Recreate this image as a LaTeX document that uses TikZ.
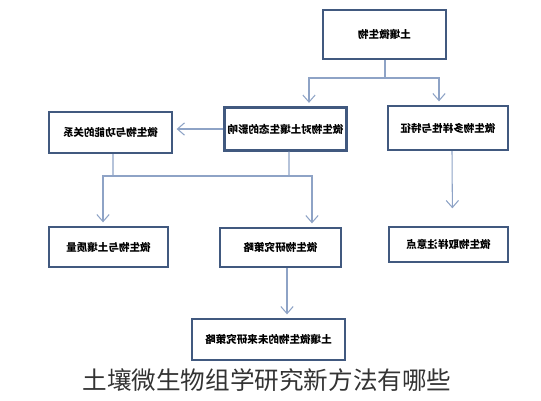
\documentclass[tikz,border=0pt]{standalone}
\usepackage{graphicx}
\usepackage{fontspec}
\newfontfamily\cjk{Noto Sans CJK SC}
\usetikzlibrary{arrows.meta}
\definecolor{boxline}{HTML}{41597F}
\definecolor{linkline}{HTML}{8EA3C6}

\begin{document}
\begin{tikzpicture}[x=0.02cm,y=-0.02cm]

\tikzstyle{box}=[shape=rectangle, draw=boxline, line width=1.3pt,
    fill=white, align=center, inner sep=0pt,
    font=\cjk\bfseries\fontsize{6}{7}\selectfont]
\tikzstyle{link}=[draw=linkline, line width=0.6pt]
\tikzstyle{arr}=[link, ->, >={Straight Barb[length=4pt,width=7pt]}, shorten >=2pt]

  \useasboundingbox (0,0) rectangle (541,400);

  \node[box, minimum width=2.46cm, minimum height=0.98cm] (soil) at (384.5,34.5) {\reflectbox{土壤微生物}};

  \node[box, minimum width=2.44cm, minimum height=0.86cm] (effect) at (285.5,129) {\reflectbox{微生物对土壤生态的影响}};
  \node[box, minimum width=2.46cm, minimum height=0.82cm] (function) at (110.5,132.5) {\reflectbox{微生物与功能的关系}};
  \node[box, minimum width=2.40cm, minimum height=0.88cm] (diversity) at (448,128) {\reflectbox{微生物多样性与特征}};

  \node[box, minimum width=2.38cm, minimum height=0.80cm] (quality) at (108.5,247) {\reflectbox{微生物与土壤质量}};
  \node[box, minimum width=2.42cm, minimum height=0.78cm] (strategy) at (280.5,247.5) {\reflectbox{微生物研究策略}};
  \node[box, minimum width=2.38cm, minimum height=0.70cm] (sampling) at (448.5,244.5) {\reflectbox{微生物取样注意点}};

  \node[box, minimum width=3.06cm, minimum height=0.82cm] (future) at (268.5,339.5) {\reflectbox{土壤微生物的未来研究策略}};

  \node[font=\cjk\fontsize{14}{16}\selectfont, text=black!80] (title) at (267,380) {土壤微生物组学研究新方法有哪些};

  % first split
  \coordinate (split1) at (385,78);
  \draw[link] (soil.south -| split1) -- (split1);
  \draw[arr] (split1) -| ([xshift=0.47cm]effect.north);
  \draw[arr] (split1) -| ([xshift=-0.18cm]diversity.north);

  \draw[arr] (effect.west) -- (function.east |- effect.west);
  \draw[arr, shorten >=10pt] ([xshift=0.08cm]diversity.south) -- ([xshift=0.08cm]sampling.north);

  % second split
  \coordinate (split2l) at (113,176);
  \coordinate (split2r) at (289,176);
  \draw[link] ([xshift=0.05cm]function.south) -- (split2l);
  \draw[link] ([xshift=0.07cm]effect.south) -- (split2r);
  \draw[link] (split2l) -- (split2r);
  \draw[arr] (split2l) -| ([xshift=-0.11cm]quality.north);
  \draw[arr] (split2r) -| ([xshift=0.63cm]strategy.north);

  \draw[arr] ([xshift=0.13cm]strategy.south) -- ([xshift=0.13cm]strategy.south |- future.north);

\end{tikzpicture}
\end{document}
